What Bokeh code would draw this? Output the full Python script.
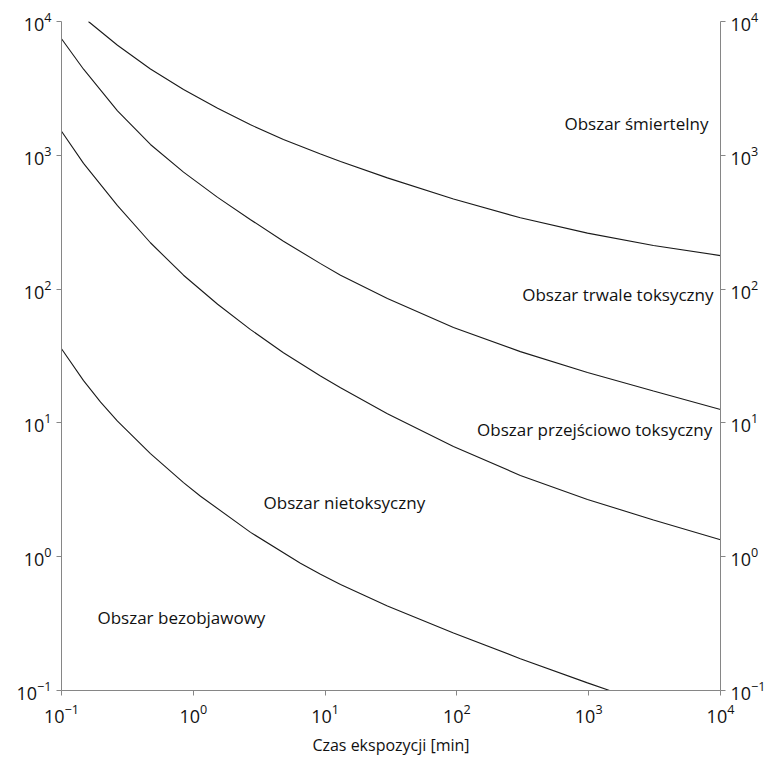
from bokeh.plotting import figure
from bokeh.models import LogAxis, Label, Range1d
from bokeh.embed import file_html
from bokeh.resources import INLINE

# ---- data ----
x_c1 = [0.16, 0.266, 0.473, 0.843, 1.53, 2.72, 4.83, 9.23, 13.1, 29.7, 94.2, 303, 979, 3100, 10000]
y_c1 = [10000, 6650, 4420, 3100, 2250, 1690, 1310, 1023, 900, 678, 471, 341, 262, 212, 178]

x_c2 = [0.1, 0.147, 0.266, 0.473, 0.843, 1.53, 2.72, 4.83, 9.23, 13.1, 29.7, 94.2, 303, 979, 3100, 10000]
y_c2 = [7430, 4400, 2150, 1205, 748, 485, 330, 228, 155, 127, 85.1, 51.6, 34.1, 23.8, 17.3, 12.6]

x_c3 = [0.1, 0.147, 0.266, 0.473, 0.843, 1.53, 2.72, 4.83, 9.23, 13.1, 29.7, 94.2, 303, 979, 3100, 10000]
y_c3 = [1514, 871, 420, 222, 127, 77.1, 49.8, 33.4, 22.4, 18.3, 11.7, 6.65, 4.05, 2.68, 1.88, 1.34]

x_c4 = [0.1, 0.147, 0.198, 0.266, 0.473, 0.843, 1.135, 2.72, 6.50, 9.23, 13.1, 29.7, 94.2, 303, 979, 1440]
y_c4 = [35.8, 20.7, 14.3, 10.3, 5.90, 3.58, 2.83, 1.52, 0.893, 0.739, 0.621, 0.428, 0.269, 0.173, 0.114, 0.1]

region_labels = ["Obszar śmiertelny", "Obszar trwale toksyczny", "Obszar przejściowo toksyczny",
                 "Obszar nietoksyczny", "Obszar bezobjawowy"]
x_title = "Czas ekspozycji [min]"

FONT = "Open Sans"
AXIS_COL = "#868686"

p = figure(frame_width=659, frame_height=669,
           x_axis_type="log", y_axis_type="log",
           x_range=Range1d(0.1, 10000), y_range=Range1d(0.1, 10000),
           output_backend="svg", toolbar_location=None,
           min_border_left=61, min_border_right=45, min_border_top=21, min_border_bottom=64)
p.outline_line_color = None
p.xgrid.visible = False
p.ygrid.visible = False
p.background_fill_color = "white"
p.border_fill_color = "white"

for xs, ys in [(x_c1, y_c1), (x_c2, y_c2), (x_c3, y_c3), (x_c4, y_c4)]:
    p.line(xs, ys, line_color="#1a1a1a", line_width=1.1)

p.add_layout(LogAxis(), "right")

for ax in p.axis:
    ax.axis_line_color = AXIS_COL
    ax.major_tick_line_color = AXIS_COL
    ax.major_tick_out = 5
    ax.major_tick_in = 0
    ax.minor_tick_line_color = None
    ax.major_label_text_font = FONT
    ax.major_label_text_font_size = "18px"
    ax.major_label_text_color = "#111111"

p.xaxis.major_label_standoff = 8
p.xaxis.axis_label = x_title
p.xaxis.axis_label_text_font = FONT
p.xaxis.axis_label_text_font_size = "16px"
p.xaxis.axis_label_text_font_style = "normal"
p.xaxis.axis_label_text_color = "#111111"
p.xaxis.axis_label_standoff = 8

lab_pos = [
    (8100, 1730, "right"),
    (8850, 91, "right"),
    (8650, 8.93, "right"),
    (3.41, 2.54, "left"),
    (0.1875, 0.352, "left"),
]
for (lx, ly, al), txt in zip(lab_pos, region_labels):
    p.add_layout(Label(x=lx, y=ly, text=txt, text_align=al, text_baseline="middle",
                       text_font=FONT, text_font_size="17px", text_color="#111111"))

open("out.html", "w").write(file_html(p, INLINE))
